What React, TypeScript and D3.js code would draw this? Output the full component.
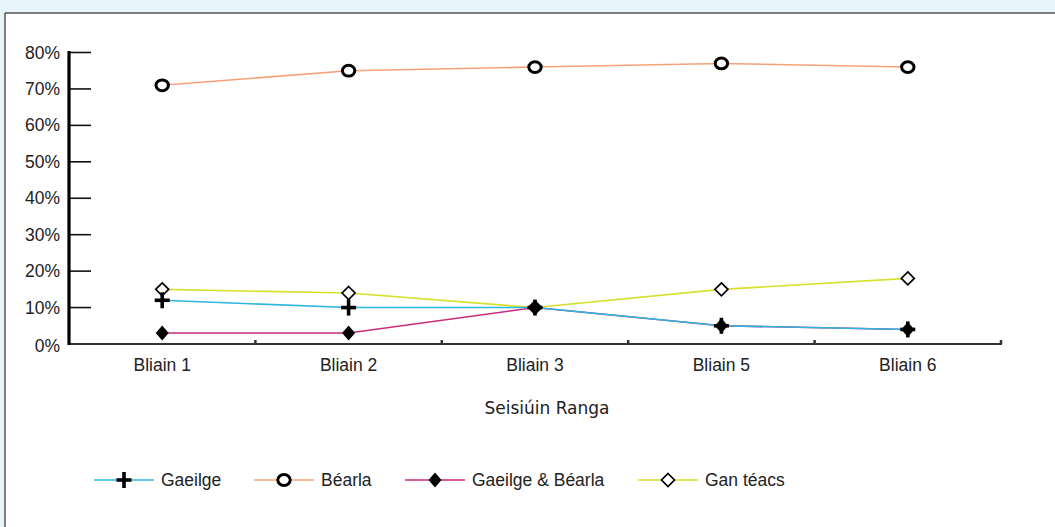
import React from "react";
import * as d3 from "d3";

const categories = ["Bliain 1", "Bliain 2", "Bliain 3", "Bliain 5", "Bliain 6"];
const gaeilge = [12, 10, 10, 5, 4];
const bearla = [71, 75, 76, 77, 76];
const gaeilgeBearla = [3, 3, 10, 5, 4];
const ganTeacs = [15, 14, 10, 15, 18];
const yTicks = [0, 10, 20, 30, 40, 50, 60, 70, 80];

type Marker = "plus" | "o" | "diamond" | "odiamond";
const series: { name: string; values: number[]; color: string; marker: Marker }[] = [
  { name: "Gaeilge", values: gaeilge, color: "#2bb7de", marker: "plus" },
  { name: "Béarla", values: bearla, color: "#f6a178", marker: "o" },
  { name: "Gaeilge & Béarla", values: gaeilgeBearla, color: "#cc2a7c", marker: "diamond" },
  { name: "Gan téacs", values: ganTeacs, color: "#d8df2c", marker: "odiamond" },
];

const FONT = "'Liberation Sans', Arial, Helvetica, sans-serif";

function MarkerShape({ type, x, y }: { type: Marker; x: number; y: number }) {
  if (type === "plus")
    return (
      <g transform={`translate(${x},${y})`}>
        <line x1={-7.5} x2={7.5} y1={0} y2={0} stroke="#000" strokeWidth={3.6} />
        <line x1={0} x2={0} y1={-8} y2={8} stroke="#000" strokeWidth={3.6} />
      </g>
    );
  if (type === "o")
    return <ellipse cx={x} cy={y} rx={6.2} ry={5.4} fill="#fff" stroke="#000" strokeWidth={3} />;
  if (type === "diamond")
    return <path d={`M${x},${y - 7.5}L${x + 6.5},${y}L${x},${y + 7.5}L${x - 6.5},${y}Z`} fill="#000" />;
  return (
    <path
      d={`M${x},${y - 6.5}L${x + 6.5},${y}L${x},${y + 6.5}L${x - 6.5},${y}Z`}
      fill="#fff"
      stroke="#000"
      strokeWidth={1.7}
    />
  );
}

export default function App() {
  const W = 1055;
  const H = 527;
  const x0 = 69;
  const x1 = 1001;
  const x = d3.scaleBand<string>().domain(categories).range([x0, x1]);
  const y = d3.scaleLinear().domain([0, 80]).range([344, 52.5]);
  const line = (vals: number[]) =>
    d3
      .line<number>()
      .x((_, i) => (x(categories[i]) as number) + x.bandwidth() / 2)
      .y((v) => y(v))(vals) as string;

  const markerOrder = [3, 1, 0, 2];
  const legendX = [94, 254, 405, 638];

  return (
    <div style={{ position: "fixed", left: 0, top: 0, width: W, height: H }}>
      <svg width={W} height={H} style={{ display: "block" }}>
        <rect x={0} y={0} width={W} height={H} fill="#e7f4fa" />
        <rect x={5} y={13} width={W} height={H} fill="#fff" />
        <line x1={5} x2={W} y1={13} y2={13} stroke="#555" strokeWidth={1.5} />
        <line x1={5} x2={5} y1={13} y2={H} stroke="#555" strokeWidth={1.5} />

        {/* y ticks */}
        {yTicks.map((t) => (
          <g key={t}>
            {t > 0 && <line x1={x0} x2={91} y1={y(t)} y2={y(t)} stroke="#111" strokeWidth={1.6} />}
            <text
              x={60}
              y={y(t) + (t === 0 ? 8 : 6)}
              textAnchor="end"
              fontFamily={FONT}
              fontSize={17.5}
              fill="#222"
            >
              {t}%
            </text>
          </g>
        ))}
        {/* x axis */}
        <line x1={x0} x2={x1 + 1} y1={344} y2={344} stroke="#333" strokeWidth={2} />
        {categories.map((c) => (
          <g key={c}>
            <line
              x1={(x(c) as number) + x.bandwidth()}
              x2={(x(c) as number) + x.bandwidth()}
              y1={344}
              y2={340}
              stroke="#333"
              strokeWidth={2.5}
            />
            <text
              x={(x(c) as number) + x.bandwidth() / 2}
              y={371}
              textAnchor="middle"
              fontFamily={FONT}
              fontSize={17.5}
              fill="#222"
            >
              {c}
            </text>
          </g>
        ))}
        <line x1={x0} x2={x0} y1={51} y2={345} stroke="#000" strokeWidth={3.2} />

        <text x={547} y={414} textAnchor="middle" fontFamily="'DejaVu Sans', sans-serif" fontSize={17} fill="#222">
          Seisiúin Ranga
        </text>

        {/* lines */}
        {[1, 3, 2, 0].map((si) => (
          <path key={si} d={line(series[si].values)} fill="none" stroke={series[si].color} strokeWidth={1.6} />
        ))}
        {/* markers */}
        {markerOrder.map((si) =>
          series[si].values.map((v, i) => (
            <MarkerShape
              key={`${si}-${i}`}
              type={series[si].marker}
              x={(x(categories[i]) as number) + x.bandwidth() / 2}
              y={y(v)}
            />
          ))
        )}

        {/* legend */}
        {series.map((s, i) => (
          <g key={s.name}>
            <line x1={legendX[i]} x2={legendX[i] + 60} y1={480} y2={480} stroke={s.color} strokeWidth={1.6} />
            <MarkerShape type={s.marker} x={legendX[i] + 30} y={480} />
            <text x={legendX[i] + 67} y={486} fontFamily={FONT} fontSize={17.5} fill="#222">
              {s.name}
            </text>
          </g>
        ))}
      </svg>
    </div>
  );
}
